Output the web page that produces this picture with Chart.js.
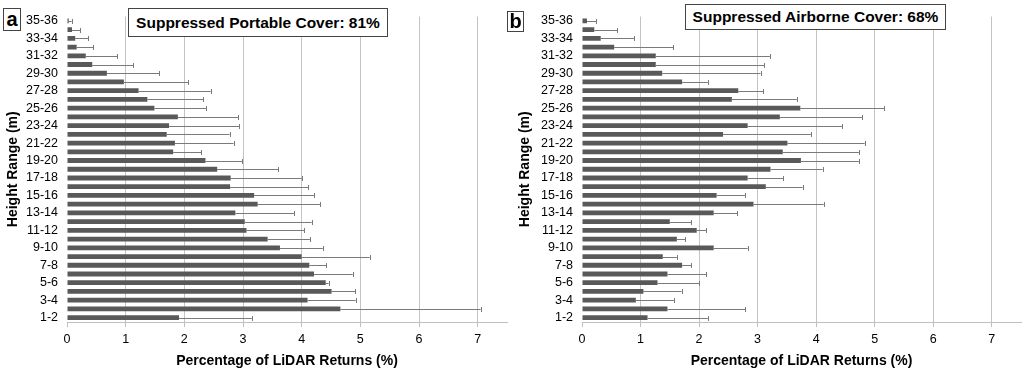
<!DOCTYPE html>
<html>
<head>
<meta charset="utf-8">
<script src="https://cdn.jsdelivr.net/npm/chart.js@4"></script>
<style>
  body { margin: 0; background: #fff; font-family: "Liberation Sans", Arial, sans-serif; }
  #wrap { position: relative; width: 1024px; height: 373px; overflow: hidden; }
  .panel { position: absolute; top: 0; width: 512px; height: 373px; }
  .box { position: absolute; border: 1px solid #444; background: #fff; font-weight: bold;
         display: flex; align-items: center; justify-content: center; box-sizing: border-box; color: #000; }
</style>
</head>
<body>
<div id="wrap">
  <div class="panel" style="left:0"><canvas id="chartA" width="512" height="373"></canvas></div>
  <div class="panel" style="left:512px"><canvas id="chartB" width="512" height="373"></canvas></div>
  <div class="box" style="left:3px;top:8px;width:18px;height:23px;font-size:20px;">a</div>
  <div class="box" style="left:507px;top:11px;width:17px;height:21px;font-size:20px;">b</div>
  <div class="box" style="left:128px;top:8px;width:260px;height:29px;font-size:15.5px;">Suppressed Portable Cover: 81%</div>
  <div class="box" style="left:685px;top:4px;width:261px;height:26px;font-size:15.5px;">Suppressed Airborne Cover: 68%</div>
</div>
<script>
// height classes, bottom (1-2) to top (35-36)
const heights = [];
for (let h = 1; h <= 35; h++) heights.push(h + '-' + (h + 1));

// (a) suppressed portable cover
const portableMean = [1.91, 4.66, 4.10, 4.51, 4.41, 4.21, 4.13, 4.00, 3.63, 3.42,
                      3.06, 3.03, 2.87, 3.25, 3.19, 2.78, 2.79, 2.56, 2.36, 1.81,
                      1.84, 1.70, 1.74, 1.89, 1.49, 1.37, 1.22, 0.97, 0.68, 0.43,
                      0.32, 0.165, 0.14, 0.085, 0.03];
const portableErr  = [1.24, 2.39, 0.82, 0.40, 0.05, 0.66, 0.29, 1.16, 0.73, 0.72,
                      0.98, 1.14, 1.00, 1.07, 1.02, 1.33, 1.21, 1.04, 0.63, 0.48,
                      1.00, 1.07, 1.20, 1.03, 0.88, 0.95, 1.23, 1.10, 0.89, 0.70,
                      0.54, 0.28, 0.22, 0.14, 0.05];

// (b) suppressed airborne cover
const airborneMean = [1.12, 1.46, 0.92, 1.05, 1.29, 1.46, 1.71, 1.38, 2.25, 1.62,
                      1.96, 1.50, 2.25, 2.93, 2.30, 3.14, 2.83, 3.22, 3.74, 3.43,
                      3.51, 2.41, 2.83, 3.38, 3.73, 2.56, 2.67, 1.71, 1.37, 1.26,
                      1.26, 0.55, 0.32, 0.21, 0.085];
const airborneErr  = [1.03, 1.33, 0.65, 0.65, 0.71, 0.66, 0.16, 0.24, 0.58, 0.14,
                      0.16, 0.37, 0.40, 1.20, 0.49, 0.63, 0.61, 0.89, 0.99, 1.30,
                      1.32, 1.50, 1.62, 1.41, 1.43, 1.11, 0.43, 0.44, 1.68, 1.85,
                      1.95, 1.01, 0.57, 0.39, 0.155];

const xTicks = [0, 1, 2, 3, 4, 5, 6, 7];

const FONT = "'Liberation Sans', Arial, sans-serif";

// draws the positive error bar with a small cap
const errorBars = {
  id: 'errorBars',
  afterDatasetsDraw(chart) {
    const ctx = chart.ctx;
    const xs = chart.scales.x;
    const ds = chart.data.datasets[0];
    const meta = chart.getDatasetMeta(0);
    ctx.save();
    ctx.strokeStyle = '#7a7a7a';
    ctx.lineWidth = 1;
    meta.data.forEach(function(bar, i) {
      const x0 = bar.x;
      const x1 = xs.getPixelForValue(ds.data[i] + ds.errors[i]);
      const y = Math.round(bar.y) + 0.5;
      ctx.beginPath();
      ctx.moveTo(x0, y);
      ctx.lineTo(x1, y);
      ctx.moveTo(Math.round(x1) + 0.5, y - 2.5);
      ctx.lineTo(Math.round(x1) + 0.5, y + 2.5);
      ctx.stroke();
    });
    ctx.restore();
  }
};

function makeChart(id, means, errs, yWidth, padRight) {
  return new Chart(document.getElementById(id), {
    type: 'bar',
    data: {
      labels: heights,
      datasets: [{
        data: means,
        errors: errs,
        backgroundColor: '#595959',
        borderWidth: 0,
        barPercentage: 0.55,
        categoryPercentage: 1
      }]
    },
    options: {
      indexAxis: 'y',
      responsive: false,
      animation: false,
      layout: { padding: { top: 3, right: padRight, bottom: 0, left: 0 } },
      plugins: { legend: { display: false }, tooltip: { enabled: false } },
      scales: {
        x: {
          min: 0,
          max: 7.5,
          afterBuildTicks: function(s) { s.ticks = xTicks.map(v => ({ value: v })); },
          afterFit: function(s) { s.height = 51; },
          grid: {
            color: c => c.tick && c.tick.value === 0 ? 'rgba(0,0,0,0)' : '#c4c4c4',
            tickColor: '#bfbfbf',
            tickLength: 5,
            lineWidth: 1
          },
          border: { display: true, color: '#bfbfbf' },
          ticks: { color: '#000', padding: 5, font: { family: FONT, size: 12.5 } },
          title: {
            display: true,
            text: 'Percentage of LiDAR Returns (%)',
            color: '#000',
            padding: { top: 0, bottom: 3 },
            font: { family: FONT, size: 14, weight: 'bold' }
          }
        },
        y: {
          reverse: true,
          afterFit: function(s) { s.width = yWidth; },
          grid: { display: false, drawTicks: false },
          border: { display: false },
          ticks: {
            autoSkip: false,
            padding: 9,
            color: '#000',
            font: { family: FONT, size: 12.5 },
            callback: (v, i) => i % 2 === 0 ? heights[i] : ''
          },
          title: {
            display: true,
            text: 'Height Range (m)',
            color: '#000',
            padding: { top: 5, bottom: 0 },
            font: { family: FONT, size: 14, weight: 'bold' }
          }
        }
      }
    },
    plugins: [errorBars]
  });
}

makeChart('chartA', portableMean, portableErr, 67, 5);
makeChart('chartB', airborneMean, airborneErr, 70, 3);
</script>
</body>
</html>
